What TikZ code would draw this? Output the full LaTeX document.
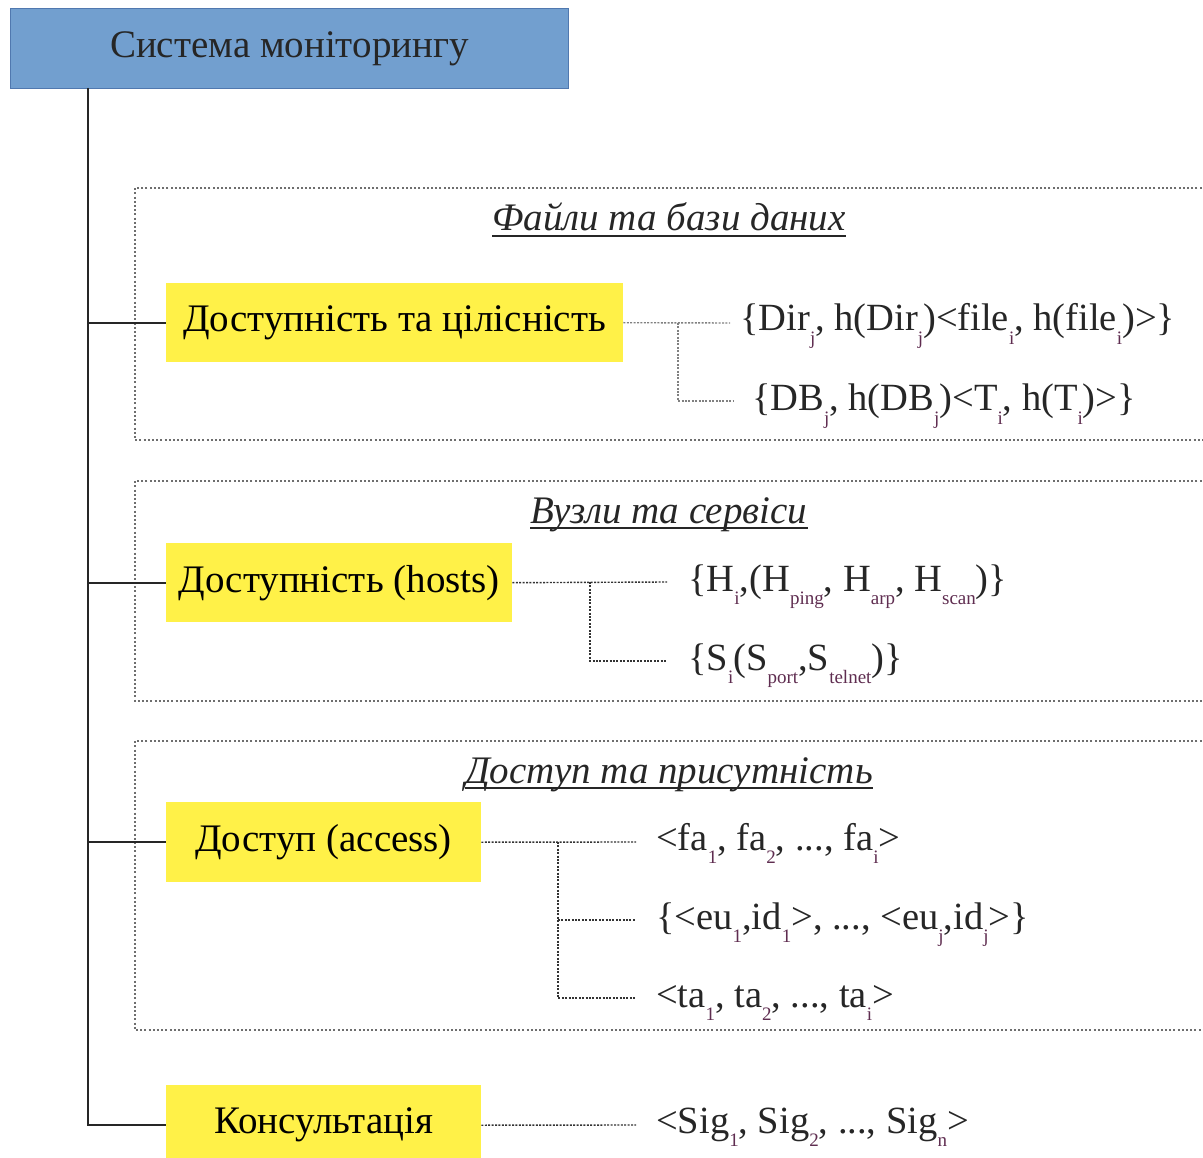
\documentclass[tikz,border=0pt]{standalone}
\usepackage{fontspec}
\setmainfont{Liberation Serif}
\definecolor{rootblue}{RGB}{114,159,207}
\definecolor{rootedge}{RGB}{80,120,175}
\definecolor{boxyellow}{RGB}{255,241,72}
\definecolor{subc}{RGB}{95,45,80}
\definecolor{frameg}{RGB}{110,110,110}
\newcommand\sbx[1]{\raisebox{-0.36em}{\fontsize{19}{19}\selectfont\color{subc}#1}}
\begin{document}
\begin{tikzpicture}[x=1pt,y=-1pt,
  rootbox/.style={draw=rootedge,fill=rootblue,line width=0.8pt,anchor=north west,inner sep=0pt,
    font=\fontsize{39}{39}\selectfont,text=black!85},
  itembox/.style={fill=boxyellow,anchor=north west,inner sep=0pt,font=\fontsize{39}{39}\selectfont},
  formula/.style={anchor=base west,inner sep=0pt,font=\fontsize{38.5}{38.5}\selectfont,text=black!85},
  grouptitle/.style={anchor=base,inner sep=0pt,font=\fontsize{39}{39}\selectfont\itshape,text=black!85},
  treeline/.style={line width=1.9pt,black!85},
  frameline/.style={line width=1.4pt,frameg,dash pattern=on 2pt off 2.2pt},
  leafline/.style={line width=1.4pt,black!80,dash pattern=on 2pt off 1.4pt}]
\useasboundingbox (0,0) rectangle (1203,1158);
\clip (0,0) rectangle (1203,1158);

% dotted group frames, open on the right
\draw[frameline] (1210,188) -- (135,188) -- (135,440) -- (1210,440);
\draw[frameline] (1210,481) -- (135,481) -- (135,701) -- (1210,701);
\draw[frameline] (1210,741) -- (135,741) -- (135,1030) -- (1210,1030);

% group titles with underline
\node[grouptitle] (t1) at (669,231) {Файли та бази даних};
\node[grouptitle] (t2) at (669,523) {Вузли та сервіси};
\node[grouptitle] (t3) at (669,783) {Доступ та присутність};
\foreach \t in {t1,t2,t3}
  \draw[line width=1.6pt,black!85] ([yshift=-5pt]\t.base west) -- ([yshift=-5pt]\t.base east);

% root and category boxes
\node[rootbox,minimum width=558pt,minimum height=80pt] (root) at (10,8) {Система моніторингу};
\node[itembox,minimum width=457pt,minimum height=79pt] (b1) at (166,283) {Доступність та цілісність};
\node[itembox,minimum width=346pt,minimum height=79pt] (b2) at (166,543) {Доступність (hosts)};
\node[itembox,minimum width=315pt,minimum height=80pt] (b3) at (166,802) {Доступ (access)};
\node[itembox,minimum width=315pt,minimum height=80pt] (b4) at (166,1085) {Консультація};

% tree trunk and branches
\coordinate (trunk) at (88,88);
\draw[treeline] (trunk) |- (b4.west);
\foreach \b in {b1,b2,b3}
  \draw[treeline] (\b.west -| trunk) -- (\b.west);

% leaf texts
\node[formula] (f11) at (740,331) {\{Dir\sbx{j}, h(Dir\sbx{j})<file\sbx{i}, h(file\sbx{i})>\}};
\node[formula] (f12) at (752,411) {\{DB\sbx{j}, h(DB\sbx{j})<T\sbx{i}, h(T\sbx{i})>\}};
\node[formula] (f21) at (688,591) {\{H\sbx{i},(H\sbx{ping}, H\sbx{arp}, H\sbx{scan})\}};
\node[formula] (f22) at (688,670) {\{S\sbx{i}(S\sbx{port},S\sbx{telnet})\}};
\node[formula] (f31) at (656,850) {<fa\sbx{1}, fa\sbx{2}, ..., fa\sbx{i}>};
\node[formula] (f32) at (656,929) {\{<eu\sbx{1},id\sbx{1}>, ..., <eu\sbx{j},id\sbx{j}>\}};
\node[formula] (f33) at (656,1007) {<ta\sbx{1}, ta\sbx{2}, ..., ta\sbx{i}>};
\node[formula] (f41) at (656,1133) {<Sig\sbx{1}, Sig\sbx{2}, ..., Sig\sbx{n}>};

% dotted leaf connectors
\coordinate (j1) at (678,323);
\coordinate (j2) at (590,582);
\coordinate (j3) at (558,842);
\draw[leafline,black!50] (b1.east) -- (730,323);
\draw[leafline,black!50] (j1) |- (734,401);
\draw[leafline] (b2.east) -- (667,582);
\draw[leafline] (j2) |- (667,661);
\draw[leafline] (b3.east) -- (636,842);
\draw[leafline] (j3) |- (636,998);
\draw[leafline] (j3 |- 0,920) -- (636,920);
\draw[leafline] (b4.east) -- (636,1125);
\end{tikzpicture}
\end{document}
